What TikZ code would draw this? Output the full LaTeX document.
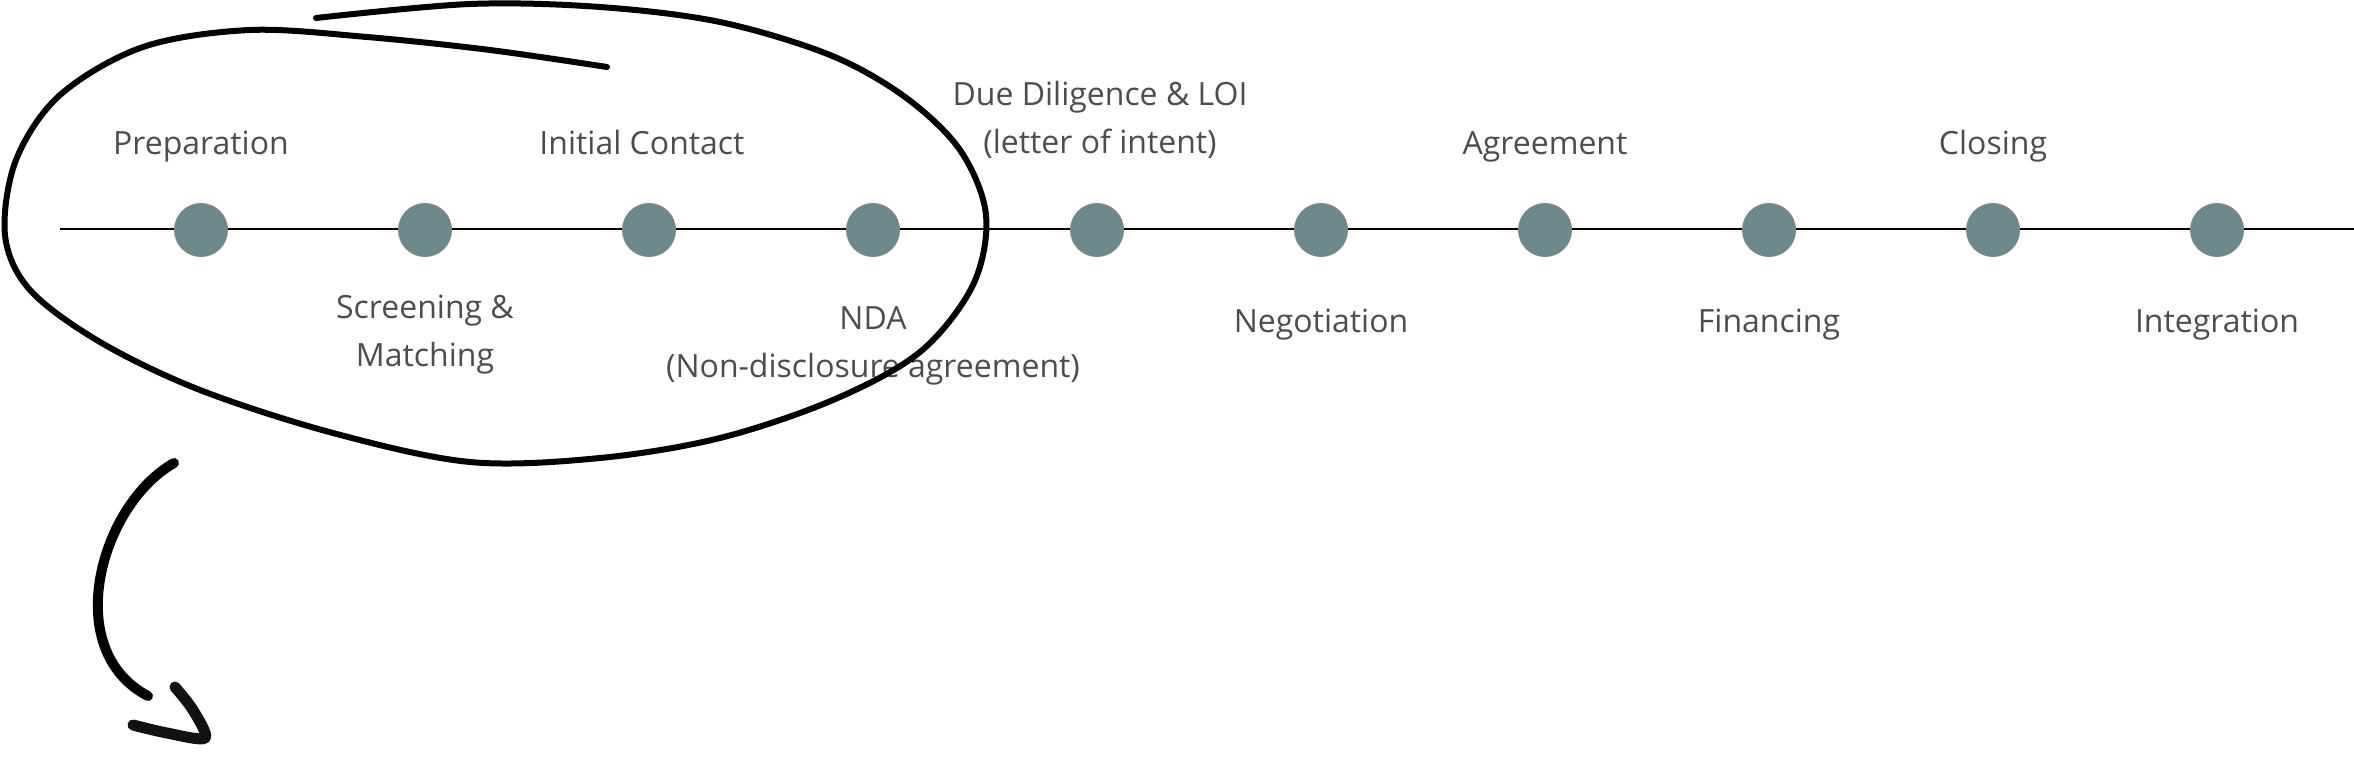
\documentclass[tikz,border=0pt]{standalone}
\usepackage{fontspec}
\setmainfont{Open Sans}
\usetikzlibrary{positioning}

\definecolor{dotgray}{HTML}{6E898B}
\definecolor{labelgray}{HTML}{4D4D4D}

\begin{document}
\begin{tikzpicture}[x=0.5pt,y=-0.5pt,
	stage/.style={circle,fill=dotgray,minimum size=27pt,inner sep=0pt},
	lbl/.style={text=labelgray,font=\fontsize{16}{24}\selectfont,align=center,anchor=base,inner sep=0pt},
	pen/.style={line width=3pt,line cap=round,line join=round}]
			\useasboundingbox (0,0) rectangle (2354,771);
			\coordinate (lstart) at (60,229);
			\coordinate (lend) at (2354,229);
			\draw[line width=0.9pt] (lstart) -- (lend);
			\node[stage] (prep) at (201,230) {};
			\node[stage] (screen) at (425,230) {};
			\node[stage] (contact) at (649,230) {};
			\node[stage] (nda) at (873,230) {};
			\node[stage] (dd) at (1097,230) {};
			\node[stage] (nego) at (1321,230) {};
			\node[stage] (agree) at (1545,230) {};
			\node[stage] (fin) at (1769,230) {};
			\node[stage] (close) at (1993,230) {};
			\node[stage] (integ) at (2217,230) {};
			\node[lbl] (prepl) at (201,154) {Preparation};
			\node[lbl] (screenl) at (425,366) {Screening \&\\Matching};
			\node[lbl] (contactl) at (642,154) {Initial Contact};
			\node[lbl] (ndal) at (873,377) {NDA\\(Non-disclosure agreement)};
			\node[lbl] (ddl) at (1100,153) {Due Diligence \& LOI\\(letter of intent)};
			\node[lbl] (negol) at (1321,332) {Negotiation};
			\node[lbl] (agreel) at (1545,154) {Agreement};
			\node[lbl] (finl) at (1769,332) {Financing};
			\node[lbl] (closel) at (1993,154) {Closing};
			\node[lbl] (integl) at (2217,332) {Integration};
			% hand drawn loop round the first steps
			\draw[pen] plot[smooth,tension=0.55] coordinates {(607,67) (490,50) (367,37) (250,30) (143,47) (60,95) (16,160) (5,235) (30,290) (100,342) (200,390) (333,433) (470,462) (600,458) (720,438) (833,400) (920,352) (973,285) (986,215) (960,150) (905,97) (830,55) (720,22) (600,7) (470,4) (316,18)};
			% arrow down
			\coordinate (arcstart) at (174,463);
			\coordinate (arcend) at (148,696);
			\draw[pen,line width=5pt] (arcstart) .. controls (100,505) and (60,650) .. (arcend);
			\draw[pen,line width=5.5pt,color=black!93] plot[smooth,tension=0.5] coordinates {(175,687) (193,710) (205,738) (167,733) (133,725)};
\end{tikzpicture}
\end{document}
